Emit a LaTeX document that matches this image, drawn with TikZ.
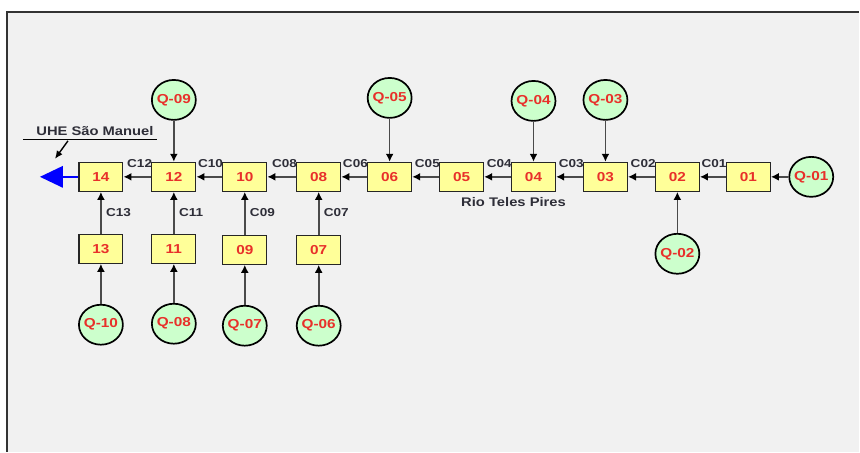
\documentclass[tikz,border=0pt]{standalone}
\usepackage{fontspec}
\setmainfont{Liberation Sans}[FakeStretch=1.18]
\usetikzlibrary{arrows.meta,shapes.geometric,calc}
\definecolor{bg}{HTML}{F1F1F1}
\definecolor{boxfill}{HTML}{FFFF99}
\definecolor{circfill}{HTML}{CCFFCC}
\definecolor{numred}{HTML}{E8302A}
\definecolor{linegray}{HTML}{4A4A4A}
\definecolor{labgray}{HTML}{2E2E38}
\newcommand{\qlabel}[1]{\makebox[0pt][c]{#1}}
\tikzset{
  reach/.style={draw=black!85, fill=boxfill, line width=1.2pt, minimum width=44pt,
    minimum height=29pt, inner sep=0pt, font=\bfseries\fontsize{13}{13}\selectfont, text=numred},
  inflow/.style={ellipse, draw=black, fill=circfill, line width=1.7pt, minimum width=44pt,
    minimum height=40pt, inner sep=0pt, font=\bfseries\fontsize{13}{13}\selectfont, text=numred},
  flow/.style={draw=linegray, line width=1.6pt, arrows={-{Latex[length=8pt,width=8pt,color=black]}}},
  clab/.style={font=\bfseries\fontsize{11.5}{11.5}\selectfont, text=labgray, inner sep=0pt},
}
\begin{document}
\begin{tikzpicture}[x=1pt,y=-1pt]
  % canvas and frame
  \fill[white] (0,0) rectangle (860,452);
  \fill[bg] (6,11) rectangle (860,452);
  \draw[line width=1.6pt, draw=black!80] (6.8,452) -- (6.8,11.8) -- (860,11.8);
  \useasboundingbox (0,0) rectangle (860,452);

  % main channel reaches
  \node[reach] (n14) at (101,177) {14};
  \node[reach] (n12) at (174,177) {12};
  \node[reach] (n10) at (245,177) {10};
  \node[reach] (n08) at (319,177) {08};
  \node[reach] (n06) at (390,177) {06};
  \node[reach] (n05) at (462,177) {05};
  \node[reach] (n04) at (534,177) {04};
  \node[reach] (n03) at (606,177) {03};
  \node[reach] (n02) at (678,177) {02};
  \node[reach] (n01) at (749,177) {01};

  % tributary reaches
  \node[reach] (n13) at (101,249) {13};
  \node[reach] (n11) at (174,249) {11};
  \node[reach] (n09) at (245,250) {09};
  \node[reach] (n07) at (319,250) {07};

  % inflows
  \node[inflow] (q09) at (174,100) {\qlabel{Q-09}};
  \node[inflow] (q05) at (390,98)  {\qlabel{Q-05}};
  \node[inflow] (q04) at (534,101) {\qlabel{Q-04}};
  \node[inflow] (q03) at (606,100) {\qlabel{Q-03}};
  \node[inflow] (q01) at (812,177) {\qlabel{Q-01}};
  \node[inflow] (q02) at (678,254) {\qlabel{Q-02}};
  \node[inflow] (q10) at (101,325) {\qlabel{Q-10}};
  \node[inflow] (q08) at (174,324) {\qlabel{Q-08}};
  \node[inflow] (q07) at (245,326) {\qlabel{Q-07}};
  \node[inflow] (q06) at (319,326) {\qlabel{Q-06}};

  % main channel connectors with labels
  \foreach \src/\dst/\lab in {n12/n14/C12, n10/n12/C10, n08/n10/C08, n06/n08/C06,
      n05/n06/C05, n04/n05/C04, n03/n04/C03, n02/n03/C02, n01/n02/C01} {
    \draw[flow] (\src.west) -- (\dst.east);
    \node[clab, anchor=east] at ([yshift=-1.5pt,xshift=1pt]\src.north west) {\lab};
  }

  % tributary connectors with labels
  \foreach \src/\dst/\lab in {n13/n14/C13, n11/n12/C11, n09/n10/C09, n07/n08/C07} {
    \draw[flow] (\src.north) -- (\dst.south);
    \node[clab, anchor=west] at ($(\src.north)!0.5!(\dst.south)+(5,-0.5)$) {\lab};
  }

  % inflow connectors
  \draw[flow] (q09.south) -- (n12.north);
  \draw[flow] (q05.south) -- (n06.north);
  \draw[flow] (q04.south) -- (n04.north);
  \draw[flow] (q03.south) -- (n03.north);
  \draw[flow] (q01.west)  -- (n01.east);
  \draw[flow] (q02.north) -- (n02.south);
  \draw[flow] (q10.north) -- (n13.south);
  \draw[flow] (q08.north) -- (n11.south);
  \draw[flow] (q07.north) -- (n09.south);
  \draw[flow] (q06.north) -- (n07.south);

  % outlet
  \coordinate (outbase) at (63,177);
  \draw[blue, line width=1.6pt] (n14.west) -- (outbase);
  \fill[blue] (40,177) -- (63,166) -- (63,188) -- cycle;

  \node[font=\bfseries\fontsize{12.5}{12.5}\selectfont, text=labgray] (rio) at (514,202) {Rio Teles Pires};
  \node[font=\bfseries\fontsize{12.5}{12.5}\selectfont, text=labgray, inner sep=1pt] (uhe) at (95,131) {UHE São Manuel};
  \draw[line width=1.2pt, black] (23,139.5) coordinate (ul) -- (157,139.5);
  \coordinate (uhetail) at (68,141);
  \coordinate (uhehead) at (55,159);
  \draw[line width=1.4pt, black, -{Latex[length=8pt,width=7pt]}] (uhetail) -- (uhehead);
\end{tikzpicture}
\end{document}
